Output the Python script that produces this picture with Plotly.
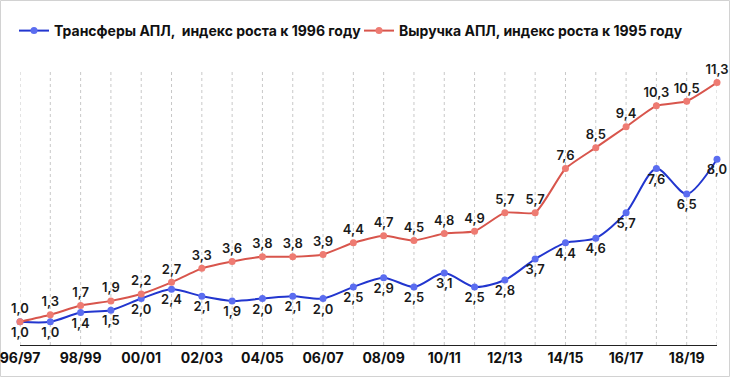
import plotly.graph_objects as go

seasons = ["96/97","97/98","98/99","99/00","00/01","01/02","02/03","03/04","04/05","05/06",
           "06/07","07/08","08/09","09/10","10/11","11/12","12/13","13/14","14/15","15/16",
           "16/17","17/18","18/19","19/20"]
transfers = [1.0,1.0,1.4,1.5,2.0,2.4,2.1,1.9,2.0,2.1,2.0,2.5,2.9,2.5,3.1,2.5,2.8,3.7,4.4,4.6,5.7,7.6,6.5,8.0]
revenue = [1.0,1.3,1.7,1.9,2.2,2.7,3.3,3.6,3.8,3.8,3.9,4.4,4.7,4.5,4.8,4.9,5.7,5.7,7.6,8.5,9.4,10.3,10.5,11.3]
tick_labels = seasons[::2]

name_t = "Трансферы АПЛ,  индекс роста к 1996 году"
name_r = "Выручка АПЛ, индекс роста к 1995 году"

def fmt(v):
    return f"{v:.1f}".replace(".", ",")

idx = list(range(len(seasons)))
FONT = "Inter"

fig = go.Figure()
fig.add_trace(go.Scatter(
    x=idx, y=transfers, name=name_t, mode="lines+markers+text",
    line=dict(color="#2236cf", width=2, shape="spline", smoothing=0.8),
    marker=dict(color="#5b6df0", size=7, line=dict(width=0)),
    text=[fmt(v) for v in transfers], textposition="bottom center",
    textfont=dict(family=FONT, size=13, color="#1a1a1a", weight=600),
    cliponaxis=False,
))
fig.add_trace(go.Scatter(
    x=idx, y=revenue, name=name_r, mode="lines+markers+text",
    line=dict(color="#d8554c", width=2, shape="spline", smoothing=0.5),
    marker=dict(color="#ee7b72", size=7, line=dict(width=0)),
    text=[fmt(v) for v in revenue], textposition="top center",
    textfont=dict(family=FONT, size=13, color="#1a1a1a", weight=600),
    cliponaxis=False,
))

L, R, T, B = 20, 13, 71, 32
W, H = 730, 377
pw, ph = W - L - R, H - T - B

fig.update_layout(
    width=W, height=H,
    margin=dict(l=L, r=R, t=T, b=B, autoexpand=False),
    paper_bgcolor="white", plot_bgcolor="white",
    font=dict(family=FONT, color="#111"),
    showlegend=True,
    legend=dict(orientation="h", xref="container", yref="container",
                x=14/W, xanchor="left", y=1 - 31/H, yanchor="middle",
                font=dict(family=FONT, size=14, color="#111", weight=700),
                itemwidth=30, entrywidth=300, entrywidthmode="pixels",
                tracegroupgap=0, bgcolor="rgba(0,0,0,0)"),
    xaxis=dict(range=[0, len(seasons)-1], tickvals=idx[::2], ticktext=tick_labels,
               automargin=False, ticklabeloverflow="allow",
               showgrid=False, zeroline=False, showline=True, linecolor="#222", linewidth=1,
               ticks="", tickfont=dict(family=FONT, size=14, color="#111", weight=700)),
    yaxis=dict(range=[0, 11.8], visible=False, showgrid=False, zeroline=False, automargin=False),
    shapes=[
        dict(type="rect", xref="paper", yref="paper",
             x0=(0.5 - L)/pw, x1=(W - 0.5 - L)/pw,
             y0=(ph + T - (H - 0.5))/ph, y1=(ph + T - 0.5)/ph,
             line=dict(color="#d2d2d2", width=1), layer="below"),
    ] + [
        dict(type="line", xref="x", yref="paper", x0=i, x1=i, y0=0, y1=1,
             line=dict(color="#c8c8c8", width=1, dash="dot"), layer="below")
        for i in idx
    ],
)

fig.write_html("out.html", config={"displayModeBar": False},
               post_script="document.body.style.margin='0';")
